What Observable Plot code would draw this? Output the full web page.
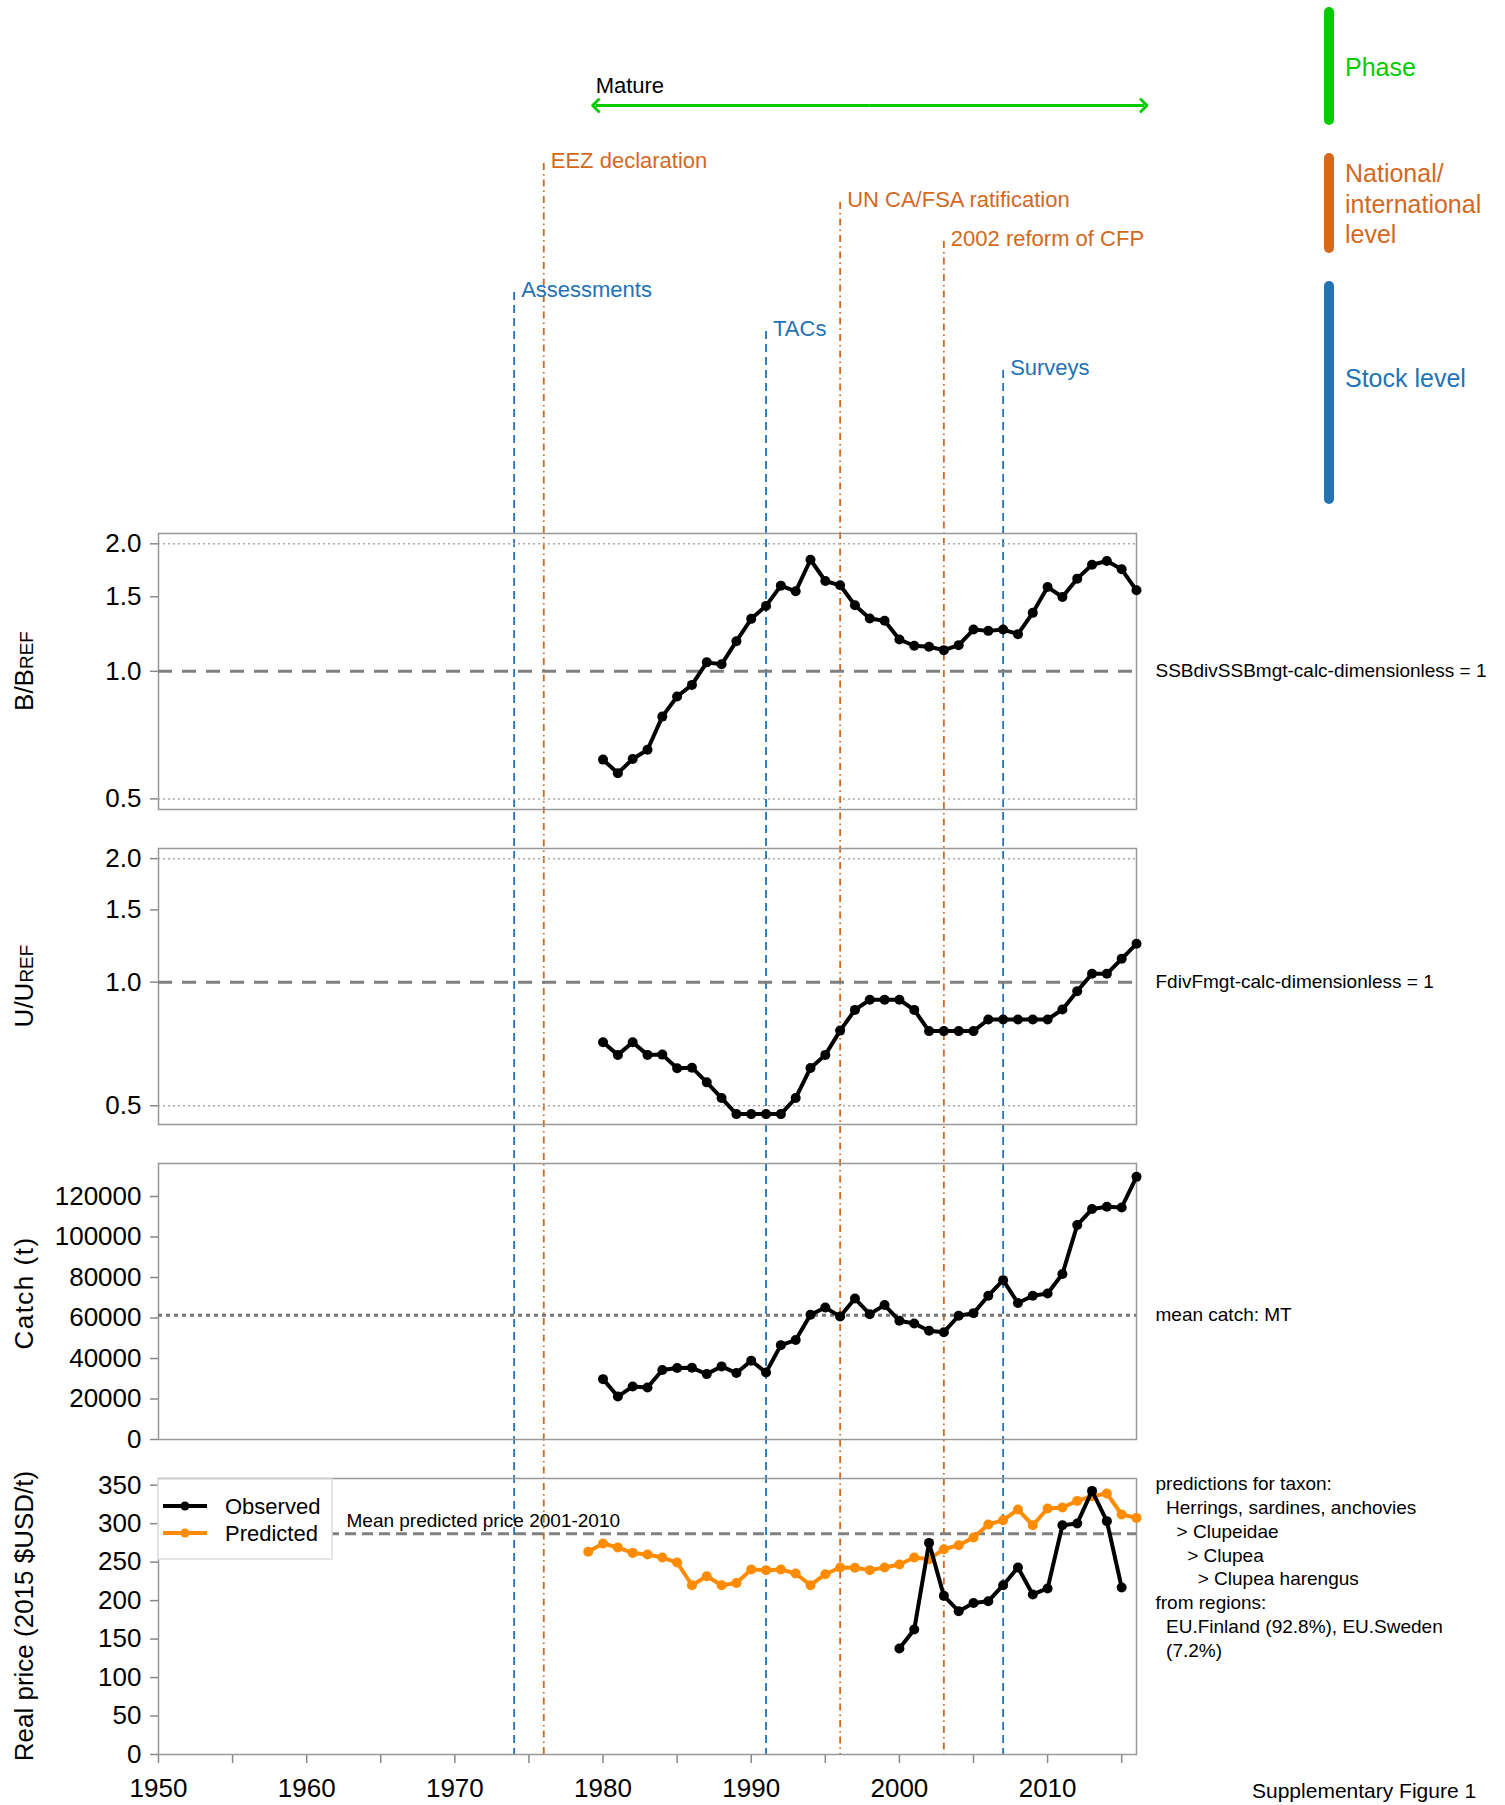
<!DOCTYPE html>
<html>
<head>
<meta charset="utf-8">
<script src="https://cdn.jsdelivr.net/npm/d3@7"></script>
<script src="https://cdn.jsdelivr.net/npm/@observablehq/plot@0.6"></script>
<style>
  body { margin: 0; background: #fff; }
  #fig { position: relative; width: 1505px; height: 1805px; overflow: hidden; background: #fff;
         font-family: "Liberation Sans", Arial, Helvetica, sans-serif; }
  .lg { position: absolute; font-size: 25px; line-height: 30.5px; white-space: pre; }
  .bar { position: absolute; width: 10px; border-radius: 5px; }
</style>
</head>
<body>
<div id="fig"></div>
<script>
// ---------------- data ----------------
const stockYears = [1980,1981,1982,1983,1984,1985,1986,1987,1988,1989,1990,1991,1992,1993,1994,1995,1996,1997,1998,1999,2000,2001,2002,2003,2004,2005,2006,2007,2008,2009,2010,2011,2012,2013,2014,2015,2016];
const bRatio = [0.619,0.575,0.621,0.653,0.782,0.872,0.929,1.05,1.039,1.178,1.33,1.427,1.593,1.545,1.834,1.634,1.596,1.432,1.332,1.316,1.189,1.149,1.143,1.122,1.153,1.255,1.246,1.255,1.224,1.374,1.581,1.498,1.655,1.785,1.821,1.741,1.553];
const uRatio = [0.714,0.665,0.714,0.665,0.666,0.617,0.619,0.570,0.522,0.477,0.477,0.477,0.477,0.522,0.618,0.665,0.762,0.856,0.906,0.906,0.906,0.856,0.760,0.760,0.760,0.760,0.811,0.811,0.811,0.811,0.811,0.858,0.951,1.048,1.048,1.14,1.24];
const catchT = [29800,21200,26200,25700,34300,35300,35400,32300,36100,32800,38900,33100,46600,49100,61600,65200,60700,69600,61900,66400,58600,57300,53700,53000,61100,62400,71000,78700,67400,71000,72100,81700,105900,113800,114900,114600,129700];
const meanCatch = 61400;

const predYears = [1979,1980,1981,1982,1983,1984,1985,1986,1987,1988,1989,1990,1991,1992,1993,1994,1995,1996,1997,1998,1999,2000,2001,2002,2003,2004,2005,2006,2007,2008,2009,2010,2011,2012,2013,2014,2015,2016];
const predictedPrice = [263.4,274.2,269,262,259.9,256,249.5,220,231.7,220,223,240.4,239.6,240.4,235.2,220,234.3,243,242.6,239.6,243,246.9,256,253.8,266.8,272,282,298.9,304.5,318.4,298,319.7,321,329.6,335.7,339.2,311.9,307.5];
const obsYears = [2000,2001,2002,2003,2004,2005,2006,2007,2008,2009,2010,2011,2012,2013,2014,2015];
const observedPrice = [137.7,162.4,275,206.2,186.2,197,199.2,220,243,208,215.8,298,300.3,342.6,303.3,217];

const eventNames = ["EEZ declaration","UN CA/FSA ratification","2002 reform of CFP","Assessments","TACs","Surveys"];
const eventYears = [1976,1996,2003,1974,1991,2007];
const eventLevels = ["national","national","national","stock","stock","stock"];
const eventRanks = [0,1,2,0,1,2];

const phaseNames = ["Mature"];
const phaseStart = [1979.5];
const phaseEnd = [2016.5];

const xDomain = [1950, 2016];
const xTicks = [1950,1955,1960,1965,1970,1975,1980,1985,1990,1995,2000,2005,2010,2015];
const ratioTicks = [0.5,1.0,1.5,2.0];
const catchTicks = [0,20000,40000,60000,80000,100000,120000];
const priceTicks = [0,50,100,150,200,250,300,350];

const taxonNote = "predictions for taxon:\n\u00a0\u00a0Herrings, sardines, anchovies\n\u00a0\u00a0\u00a0\u00a0> Clupeidae\n\u00a0\u00a0\u00a0\u00a0\u00a0\u00a0> Clupea\n\u00a0\u00a0\u00a0\u00a0\u00a0\u00a0\u00a0\u00a0> Clupea harengus\nfrom regions:\n\u00a0\u00a0EU.Finland (92.8%), EU.Sweden\n\u00a0\u00a0(7.2%)";

// ---------------- layout & styles ----------------
const FONT = '"Liberation Sans", Arial, Helvetica, sans-serif';
const BLUE = "#2272b5", ORANGE = "#d2691e", GREEN = "#00cc00", PRED = "#ff8c00";
const W = 1505, ML = 158, MR = 369, PH = 276, PM = 24;
const PANEL_TOPS = [533, 848, 1163, 1478];
const AXIS_BOTTOM = PANEL_TOPS[3] + PH;        // bottom of the lowest panel
const ROW0 = 163, ROW_STEP = 39;               // label rows of the event annotations
const STOCK_OFFSET = 3.31;                     // stock-level rows start below national rows
const LINE_W = 4, DOT_R = 5;
const fig = document.getElementById("fig");

const bRows = stockYears.map((year, i) => ({year, value: bRatio[i]}));
const uRows = stockYears.map((year, i) => ({year, value: uRatio[i]}));
const cRows = stockYears.map((year, i) => ({year, value: catchT[i]}));
const pRows = predYears.map((year, i) => ({year, value: predictedPrice[i]}));
const oRows = obsYears.map((year, i) => ({year, value: observedPrice[i]}));
const events = eventNames.map((name, i) => ({name, year: eventYears[i], level: eventLevels[i], rank: eventRanks[i]}));
const phases = phaseNames.map((name, i) => ({name, start: phaseStart[i], end: phaseEnd[i], mid: (phaseStart[i] + phaseEnd[i]) / 2}));
const meanPred = d3.mean(pRows.filter(d => d.year >= 2001 && d.year <= 2010), d => d.value);

function place(svg, top) {
  svg.style.position = "absolute";
  svg.style.left = "0px";
  svg.style.top = top + "px";
  svg.style.background = "transparent";
  svg.style.maxWidth = "none";
  svg.style.overflow = "visible";
  const s = d3.select(svg);
  s.selectAll('[aria-label^="y-axis"] line, [aria-label^="y-axis"] path, [aria-label^="x-axis"] line, [aria-label^="x-axis"] path')
    .attr("stroke", "#888").attr("stroke-width", 1.5);
  s.selectAll('[aria-label^="y-axis"] text, [aria-label^="x-axis"] text')
    .attr("font-size", 26).attr("fill", "black");
  fig.appendChild(svg);
  return svg;
}

function yTitle(svg, main, sub, spacing, shift = 0) {
  const t = d3.select(svg).append("text")
    .attr("transform", `translate(33,${PM + PH / 2 + shift}) rotate(-90)`)
    .attr("text-anchor", "middle").attr("font-size", 26).attr("fill", "black")
    .attr("font-family", FONT);
  if (spacing) t.attr("letter-spacing", spacing);
  t.append("tspan").text(main);
  if (sub) t.append("tspan").attr("font-size", 19).text(sub);
}

// ---------------- overlay: events & phase ----------------
const national = events.filter(d => d.level === "national");
const stock = events.filter(d => d.level === "stock");
const bottomRow = (AXIS_BOTTOM - ROW0) / ROW_STEP;
const overlay = Plot.plot({
  width: W, height: 1805,
  marginLeft: ML, marginRight: MR, marginTop: 0, marginBottom: 1805 - AXIS_BOTTOM,
  style: {fontFamily: FONT, background: "transparent"},
  x: {domain: xDomain, axis: null},
  y: {domain: [0, 1], range: [ROW0, ROW0 + ROW_STEP], axis: null},
  marks: [
    Plot.ruleX(national, {x: "year", y1: "rank", y2: () => bottomRow, stroke: ORANGE, strokeWidth: 1.8, strokeDasharray: "7,4,1.5,4"}),
    Plot.ruleX(stock, {x: "year", y1: d => d.rank + STOCK_OFFSET, y2: () => bottomRow, stroke: BLUE, strokeWidth: 1.8, strokeDasharray: "8,5"}),
    Plot.text(national, {x: "year", y: "rank", text: "name", textAnchor: "start", dx: 7, dy: -3, fill: ORANGE, fontSize: 22}),
    Plot.text(stock, {x: "year", y: d => d.rank + STOCK_OFFSET, text: "name", textAnchor: "start", dx: 7, dy: -3, fill: BLUE, fontSize: 22}),
    Plot.link(phases, {x1: "mid", x2: "end", y1: () => 0, y2: () => 0, dy: -58, stroke: GREEN, strokeWidth: 3, markerEnd: "arrow"}),
    Plot.link(phases, {x1: "mid", x2: "start", y1: () => 0, y2: () => 0, dy: -58, stroke: GREEN, strokeWidth: 3, markerEnd: "arrow"}),
    Plot.text(phases, {x: "start", y: () => 0, dy: -78, dx: 0, text: "name", textAnchor: "start", fill: "black", fontSize: 22})
  ]
});
place(overlay, 0);

function ratioPanel(rows, domain, note, top, title) {
  const p = Plot.plot({
    width: W, height: PH + 2 * PM, marginLeft: ML, marginRight: MR, marginTop: PM, marginBottom: PM,
    style: {fontFamily: FONT, fontSize: "26px", background: "transparent"},
    x: {domain: xDomain, axis: null},
    y: {type: "log", domain, ticks: ratioTicks, tickFormat: d3.format(".1f"), tickSize: 8, tickPadding: 9, label: null},
    marks: [
      Plot.frame({stroke: "#999", strokeWidth: 1.5}),
      Plot.ruleY([0.5, 2], {stroke: "#aaa", strokeWidth: 1.5, strokeDasharray: "2,3"}),
      Plot.ruleY([1], {stroke: "#808080", strokeWidth: 3, strokeDasharray: "14,10"}),
      Plot.line(rows, {x: "year", y: "value", stroke: "black", strokeWidth: LINE_W}),
      Plot.dot(rows, {x: "year", y: "value", r: DOT_R, fill: "black"}),
      Plot.text([note], {x: () => xDomain[1], y: () => 1, text: d => d, textAnchor: "start", dx: 19, fontSize: 19, fill: "black"})
    ]
  });
  place(p, top - PM);
  yTitle(p, title[0], title[1]);
  return p;
}

// ---------------- panels 1 & 2 ----------------
ratioPanel(bRows, [0.472, 2.115], "SSBdivSSBmgt-calc-dimensionless = 1", PANEL_TOPS[0], ["B/B", "REF"]);
ratioPanel(uRows, [0.450, 2.117], "FdivFmgt-calc-dimensionless = 1", PANEL_TOPS[1], ["U/U", "REF"]);

// ---------------- panel 3: catch ----------------
const p3 = Plot.plot({
  width: W, height: PH + 2 * PM, marginLeft: ML, marginRight: MR, marginTop: PM, marginBottom: PM,
  style: {fontFamily: FONT, fontSize: "26px", background: "transparent"},
  x: {domain: xDomain, axis: null},
  y: {domain: [0, 136300], ticks: catchTicks, tickFormat: d => String(d), tickSize: 8, tickPadding: 9, label: null},
  marks: [
    Plot.frame({stroke: "#999", strokeWidth: 1.5}),
    Plot.ruleY([meanCatch], {stroke: "#777", strokeWidth: 3, strokeDasharray: "4,4"}),
    Plot.line(cRows, {x: "year", y: "value", stroke: "black", strokeWidth: LINE_W}),
    Plot.dot(cRows, {x: "year", y: "value", r: DOT_R, fill: "black"}),
    Plot.text(["mean catch: MT"], {x: () => xDomain[1], y: () => meanCatch, text: d => d, textAnchor: "start", dx: 19, fontSize: 19, fill: "black"})
  ]
});
place(p3, PANEL_TOPS[2] - PM);
yTitle(p3, "Catch (t)", null, "1.5px", -8);

// ---------------- panel 4: price ----------------
const P4MB = 1805 - AXIS_BOTTOM;
const p4 = Plot.plot({
  width: W, height: PH + PM + P4MB, marginLeft: ML, marginRight: MR, marginTop: PM, marginBottom: P4MB,
  style: {fontFamily: FONT, fontSize: "26px", background: "transparent"},
  x: {domain: xDomain, ticks: xTicks, tickFormat: d => d % 10 === 0 ? String(d) : "", tickSize: 9, tickPadding: 15, label: null},
  y: {domain: [0, 358.7], ticks: priceTicks, tickFormat: d => String(d), tickSize: 8, tickPadding: 9, label: null},
  marks: [
    Plot.frame({stroke: "#999", strokeWidth: 1.5}),
    Plot.ruleY([meanPred], {stroke: "#808080", strokeWidth: 3, strokeDasharray: "11,6"}),
    Plot.text(["Mean predicted price 2001-2010"], {x: () => xDomain[0], y: () => meanPred, text: d => d, textAnchor: "start", dx: 188, dy: -13, fontSize: 19, fill: "black"}),
    Plot.line(pRows, {x: "year", y: "value", stroke: PRED, strokeWidth: LINE_W}),
    Plot.dot(pRows, {x: "year", y: "value", r: DOT_R, fill: PRED}),
    Plot.line(oRows, {x: "year", y: "value", stroke: "black", strokeWidth: LINE_W}),
    Plot.dot(oRows, {x: "year", y: "value", r: DOT_R, fill: "black"}),
    Plot.text([taxonNote], {frameAnchor: "top-right", text: d => d, textAnchor: "start", lineAnchor: "top", lineHeight: 1.25, dx: 19, dy: -5, fontSize: 19, fill: "black"})
  ]
});
place(p4, PANEL_TOPS[3] - PM);
yTitle(p4, "Real price (2015 $USD/t)");

// legend for panel 4
{
  const g = d3.select(p4).append("g").attr("font-family", FONT).attr("text-anchor", "start");
  g.append("rect").attr("x", ML).attr("y", PM + 1).attr("width", 174).attr("height", 80)
    .attr("fill", "white").attr("stroke", "#ddd").attr("stroke-width", 1.5);
  const items = [{label: "Observed", color: "black"}, {label: "Predicted", color: PRED}];
  items.forEach((it, i) => {
    const y = PM + 28 + i * 27;
    g.append("line").attr("x1", ML + 5).attr("x2", ML + 49).attr("y1", y).attr("y2", y)
      .attr("stroke", it.color).attr("stroke-width", 4);
    g.append("circle").attr("cx", ML + 27).attr("cy", y).attr("r", 4.5).attr("fill", it.color);
    g.append("text").attr("x", ML + 67).attr("y", y).attr("dy", "0.35em").attr("font-size", 22)
      .attr("text-anchor", "start").attr("fill", "black").text(it.label);
  });
}

// ---------------- right-hand level legend ----------------
const levelLegend = [
  {label: "Phase", color: GREEN, barTop: 7, barH: 118, textTop: 52},
  {label: "National/\ninternational\nlevel", color: ORANGE, barTop: 153, barH: 100, textTop: 158},
  {label: "Stock level", color: BLUE, barTop: 281, barH: 223, textTop: 363}
];
levelLegend.forEach(d => {
  const bar = document.createElement("div");
  bar.className = "bar";
  bar.style.left = "1324px"; bar.style.top = d.barTop + "px"; bar.style.height = d.barH + "px";
  bar.style.background = d.color;
  fig.appendChild(bar);
  const t = document.createElement("div");
  t.className = "lg";
  t.style.left = "1345px"; t.style.top = d.textTop + "px"; t.style.color = d.color;
  t.textContent = d.label;
  fig.appendChild(t);
});

const sup = document.createElement("div");
sup.style.cssText = "position:absolute;left:1252px;top:1780px;font-size:21px;line-height:22px;white-space:pre;color:black;";
sup.textContent = "Supplementary Figure 1";
fig.appendChild(sup);
</script>
</body>
</html>
